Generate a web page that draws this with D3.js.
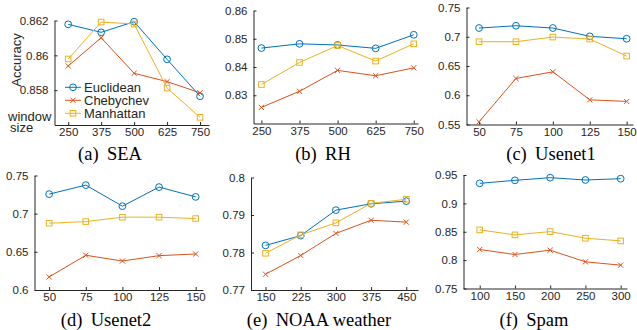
<!DOCTYPE html>
<html>
<head>
<meta charset="utf-8">
<script src="https://cdn.jsdelivr.net/npm/d3@7"></script>
<style>
  body { margin: 0; background: #fff; }
  svg { display: block; }
  .tick text { font-family: "Liberation Sans", Arial, sans-serif; fill: #262626; }
</style>
</head>
<body>
<svg id="chart"></svg>
<script>
const seriesNames = ["Euclidean", "Chebychev", "Manhattan"];
const seriesColors = ["#0072BD", "#D95319", "#EDB120"];
const seriesMarkers = ["circle", "cross", "square"];

// (a) SEA
const seaX = [250, 375, 500, 625, 750];
const seaEuclidean = [0.86178, 0.86132, 0.86193, 0.85977, 0.85765];
const seaChebychev = [0.85939, 0.86101, 0.85897, 0.85849, 0.85785];
const seaManhattan = [0.85979, 0.86191, 0.86180, 0.85812, 0.85644];
const seaYTicks = [0.858, 0.86, 0.862];

// (b) RH
const rhX = [250, 375, 500, 625, 750];
const rhEuclidean = [0.8467, 0.8482, 0.8478, 0.8466, 0.8514];
const rhChebychev = [0.8257, 0.8314, 0.8388, 0.8369, 0.8397];
const rhManhattan = [0.8338, 0.8416, 0.8476, 0.8421, 0.8482];
const rhYTicks = [0.83, 0.84, 0.85, 0.86];

// (c) Usenet1
const usenet1X = [50, 75, 100, 125, 150];
const usenet1Euclidean = [0.7149, 0.7188, 0.7149, 0.7007, 0.6966];
const usenet1Chebychev = [0.5545, 0.6287, 0.6401, 0.5922, 0.5894];
const usenet1Manhattan = [0.6915, 0.6915, 0.6995, 0.6961, 0.6670];
const usenet1YTicks = [0.55, 0.6, 0.65, 0.7, 0.75];

// (d) Usenet2
const usenet2X = [50, 75, 100, 125, 150];
const usenet2Euclidean = [0.7256, 0.7374, 0.7098, 0.7348, 0.7220];
const usenet2Chebychev = [0.6171, 0.6455, 0.6380, 0.6450, 0.6472];
const usenet2Manhattan = [0.6875, 0.6896, 0.6954, 0.6954, 0.6936];
const usenet2YTicks = [0.6, 0.65, 0.7, 0.75];

// (e) NOAA weather
const noaaX = [150, 225, 300, 375, 450];
const noaaEuclidean = [0.7819, 0.7845, 0.7913, 0.7930, 0.7937];
const noaaChebychev = [0.7742, 0.7792, 0.7851, 0.7886, 0.7881];
const noaaManhattan = [0.7798, 0.7847, 0.7879, 0.7931, 0.7942];
const noaaYTicks = [0.77, 0.78, 0.79, 0.8];

// (f) Spam
const spamX = [100, 150, 200, 250, 300];
const spamEuclidean = [0.9353, 0.9406, 0.9453, 0.9412, 0.9435];
const spamChebychev = [0.8187, 0.8099, 0.8175, 0.7970, 0.7911];
const spamManhattan = [0.8533, 0.8445, 0.8503, 0.8386, 0.8339];
const spamYTicks = [0.75, 0.8, 0.85, 0.9, 0.95];

const panels = [
  { label: "(a)", name: "SEA", x: seaX, series: [seaEuclidean, seaChebychev, seaManhattan], yTicks: seaYTicks,
    box: { left: 54.5, right: 209, top: 20.5, bottom: 125 }, xLim: [198, 784], yLim: [0.856, 0.862], caption: [110, 160], legend: true },
  { label: "(b)", name: "RH", x: rhX, series: [rhEuclidean, rhChebychev, rhManhattan], yTicks: rhYTicks,
    box: { left: 253.5, right: 418, top: 10.5, bottom: 123.5 }, xLim: [224, 764], yLim: [0.82, 0.86], caption: [323, 160] },
  { label: "(c)", name: "Usenet1", x: usenet1X, series: [usenet1Euclidean, usenet1Chebychev, usenet1Manhattan], yTicks: usenet1YTicks,
    box: { left: 466.5, right: 633, top: 7.5, bottom: 124.5 }, xLim: [41.5, 154.3], yLim: [0.55, 0.75], caption: [551, 160] },
  { label: "(d)", name: "Usenet2", x: usenet2X, series: [usenet2Euclidean, usenet2Chebychev, usenet2Manhattan], yTicks: usenet2YTicks,
    box: { left: 34.5, right: 203, top: 175.5, bottom: 290 }, xLim: [40, 155], yLim: [0.6, 0.75], caption: [106, 326] },
  { label: "(e)", name: "NOAA weather", x: noaaX, series: [noaaEuclidean, noaaChebychev, noaaManhattan], yTicks: noaaYTicks,
    box: { left: 251, right: 418, top: 177.5, bottom: 290 }, xLim: [119, 475], yLim: [0.77, 0.8], caption: [319, 326] },
  { label: "(f)", name: "Spam", x: spamX, series: [spamEuclidean, spamChebychev, spamManhattan], yTicks: spamYTicks,
    box: { left: 463.5, right: 627, top: 175, bottom: 288.5 }, xLim: [77, 309], yLim: [0.75, 0.95], caption: [534, 326] }
];

const width = 637, height = 330;
const svg = d3.select("#chart").attr("width", width).attr("height", height);

const sansFont = "'Liberation Sans', Arial, Helvetica, sans-serif";
const serifFont = "'Liberation Serif', 'Times New Roman', serif";

// draw one marker of a given type at (0,0) inside group g
const drawMarker = (g, type, color) => {
  if (type === "circle") {
    g.append("circle").attr("r", 3.4).attr("fill", "none").attr("stroke", color).attr("stroke-width", 1);
  } else if (type === "square") {
    g.append("rect").attr("x", -2.8).attr("y", -2.8).attr("width", 5.6).attr("height", 5.6)
      .attr("fill", "none").attr("stroke", color).attr("stroke-width", 1);
  } else {
    g.append("path").attr("d", "M-2.6,-2.6L2.6,2.6M-2.6,2.6L2.6,-2.6")
      .attr("fill", "none").attr("stroke", color).attr("stroke-width", 1);
  }
};

panels.forEach(p => {
  const xScale = d3.scaleLinear().domain(p.xLim).range([p.box.left, p.box.right]);
  const yScale = d3.scaleLinear().domain(p.yLim).range([p.box.bottom, p.box.top]);

  const g = svg.append("g").attr("class", "panel");

  // axes (MATLAB style: ticks pointing inward, no box)
  const xAxis = d3.axisBottom(xScale).tickValues(p.x).tickSize(-3).tickSizeOuter(0).tickPadding(3)
    .tickFormat(d => String(d));
  const yAxis = d3.axisLeft(yScale).tickValues(p.yTicks).tickSize(-3).tickSizeOuter(0).tickPadding(6)
    .tickFormat(d => String(d));

  const xg = g.append("g").attr("transform", `translate(0,${p.box.bottom})`).call(xAxis);
  const yg = g.append("g").attr("transform", `translate(${p.box.left},0)`).call(yAxis);

  [xg, yg].forEach(ax => {
    ax.select(".domain").attr("stroke", "#262626").attr("stroke-width", 1);
    ax.selectAll(".tick line").attr("stroke", "#262626");
    ax.selectAll(".tick text").style("font-size", "11.5px");
  });

  // lines + markers
  p.series.forEach((vals, i) => {
    const pts = p.x.map((xv, j) => [xv, vals[j]]);
    g.append("path")
      .datum(pts)
      .attr("fill", "none")
      .attr("stroke", seriesColors[i])
      .attr("stroke-width", 1)
      .attr("d", d3.line().x(d => xScale(d[0])).y(d => yScale(d[1])));

    g.selectAll(null)
      .data(pts)
      .enter()
      .append("g")
      .attr("transform", d => `translate(${xScale(d[0])},${yScale(d[1])})`)
      .each(function () { drawMarker(d3.select(this), seriesMarkers[i], seriesColors[i]); });
  });

  // caption
  const cap = g.append("text")
    .attr("x", p.caption[0])
    .attr("y", p.caption[1])
    .attr("text-anchor", "middle")
    .style("font-family", serifFont)
    .style("font-size", "18.5px")
    .attr("fill", "#000");
  cap.append("tspan").text(p.label);
  cap.append("tspan").attr("dx", "0.45em").text(p.name);

  if (p.legend) {
    // y label
    g.append("text")
      .attr("transform", "translate(20.5,60) rotate(-90)")
      .attr("text-anchor", "middle")
      .style("font-family", sansFont)
      .style("font-size", "13px")
      .attr("fill", "#262626")
      .text("Accuracy");

    // x label sitting to the left of the axis
    g.append("text").attr("x", 8).attr("y", 121)
      .style("font-family", sansFont).style("font-size", "13px").attr("fill", "#262626")
      .text("window");
    g.append("text").attr("x", 10).attr("y", 132)
      .style("font-family", sansFont).style("font-size", "13px").attr("fill", "#262626")
      .text("size");

    // legend
    const legend = g.append("g").attr("class", "legend");
    seriesNames.forEach((name, i) => {
      const item = legend.append("g").attr("transform", `translate(65,${87.3 + i * 13})`);
      item.append("line").attr("x1", 0).attr("x2", 16).attr("y1", 0).attr("y2", 0)
        .attr("stroke", seriesColors[i]).attr("stroke-width", 1);
      drawMarker(item.append("g").attr("transform", "translate(8,0)"), seriesMarkers[i], seriesColors[i]);
      item.append("text").attr("x", 19).attr("dy", "0.36em")
        .style("font-family", sansFont).style("font-size", "13px").attr("fill", "#262626")
        .text(name);
    });
  }
});
</script>
</body>
</html>
